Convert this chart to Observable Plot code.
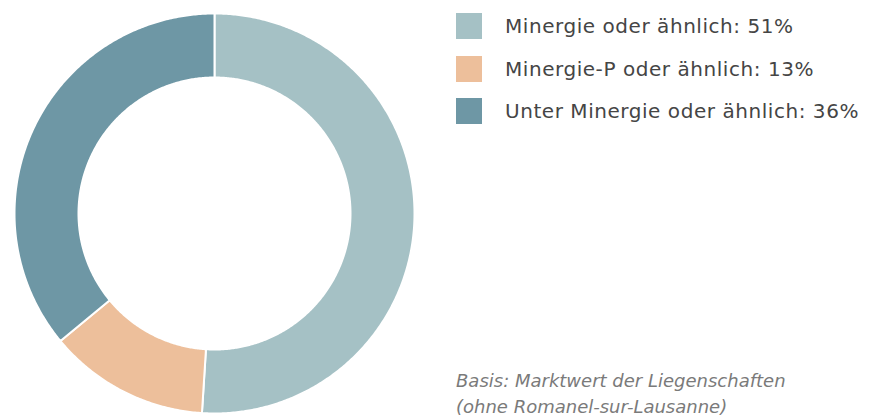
<!DOCTYPE html>
<html>
<head>
<meta charset="utf-8">
<script src="https://cdn.jsdelivr.net/npm/d3@7"></script>
<script src="https://cdn.jsdelivr.net/npm/@observablehq/plot@0.6"></script>
<style>
  body { margin: 0; background: #fff; }
  #wrap { position: relative; width: 871px; height: 416px; overflow: hidden; font-family: "DejaVu Sans", sans-serif; }
  #chart { position: absolute; left: 0; top: 0; }
  #legend { position: absolute; left: 456px; top: 13px; }
  .item { display: flex; align-items: center; height: 26px; margin-bottom: 16.5px; }
  .sw { width: 26px; height: 26px; margin-right: 23px; flex: none; }
  .lab { font-size: 20px; color: #454545; white-space: nowrap; letter-spacing: 0.55px; }
  #note { position: absolute; left: 456px; top: 368px; font-size: 18px; line-height: 26px; font-style: italic; color: #7a7a7a; white-space: nowrap; }
</style>
</head>
<body>
<div id="wrap">
  <div id="chart"></div>
  <div id="legend"></div>
  <div id="note">Basis: Marktwert der Liegenschaften<br>(ohne Romanel-sur-Lausanne)</div>
</div>
<script>
const categories = ["Minergie oder ähnlich", "Minergie-P oder ähnlich", "Unter Minergie oder ähnlich"];
const shares = [51, 13, 36];
const colors = ["#a5c1c5", "#edbf9b", "#6e97a5"];
const innerRatio = 0.68;

// build slice outlines from the shares (angles clockwise from 12 o'clock)
const total = d3.sum(shares);
const rows = [];
let acc = 0;
categories.forEach((c, i) => {
  const a0 = acc / total * 2 * Math.PI;
  acc += shares[i];
  const a1 = acc / total * 2 * Math.PI;
  const n = Math.max(8, Math.ceil((a1 - a0) / (Math.PI / 360)));
  const pts = [];
  for (let k = 0; k <= n; k++) { const a = a0 + (a1 - a0) * k / n; pts.push([Math.sin(a), Math.cos(a)]); }
  for (let k = n; k >= 0; k--) { const a = a0 + (a1 - a0) * k / n; pts.push([innerRatio * Math.sin(a), innerRatio * Math.cos(a)]); }
  pts.push(pts[0]);
  pts.forEach(([x, y]) => rows.push({category: c, x, y}));
});

const chart = Plot.plot({
  width: 430,
  height: 416,
  margin: 0,
  x: {domain: [-1.07, 1.08], axis: null},
  y: {domain: [-1.015, 1.065], axis: null},
  color: {domain: categories, range: colors},
  marks: [
    Plot.line(rows, {x: "x", y: "y", z: "category", fill: "category", stroke: "white", strokeWidth: 2, curve: "linear"})
  ]
});
document.getElementById("chart").appendChild(chart);

const legend = d3.select("#legend");
categories.forEach((c, i) => {
  const it = legend.append("div").attr("class", "item");
  it.append("div").attr("class", "sw").style("background", colors[i]);
  it.append("div").attr("class", "lab").text(`${c}: ${shares[i]}%`);
});
</script>
</body>
</html>
